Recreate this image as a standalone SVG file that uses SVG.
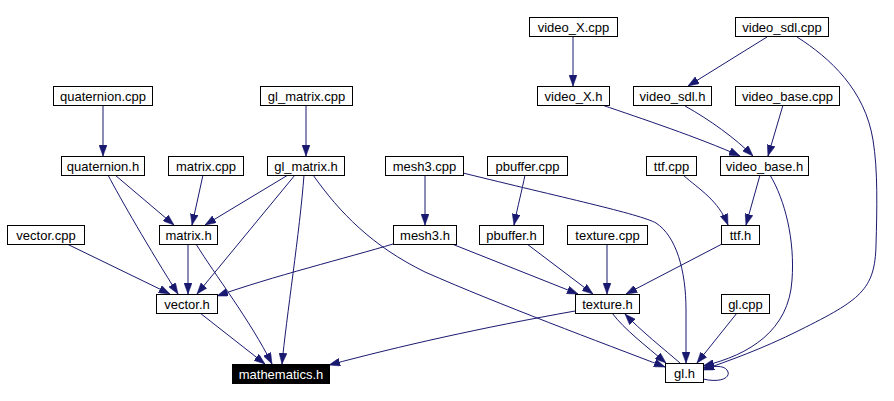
<svg xmlns="http://www.w3.org/2000/svg" width="894" height="401" viewBox="0 0 894 401">
<style>
.n rect{fill:#fff;stroke:#000;stroke-width:1}
.n text{font-family:"Liberation Sans",Arial,sans-serif;font-size:13px;text-anchor:middle;fill:#000}
.hl rect{fill:#000}
.hl text{fill:#fff}
#edges path{fill:none;stroke:#191970;stroke-width:1;marker-end:url(#ah)}
</style>
<defs>
<marker id="ah" markerWidth="11" markerHeight="8" refX="11" refY="4" orient="auto" markerUnits="userSpaceOnUse" viewBox="0 0 11 8">
<path d="M0,0 L11,4 L0,8 z" fill="#191970" stroke="#191970" stroke-width="0.5"/>
</marker>
</defs>
<rect width="894" height="401" fill="#fff"/>
<g id="edges">
<path d="M103,105 L103,156"/>
<path d="M306,105 L306,156"/>
<path d="M115,175 L174,225"/>
<path d="M108,175 C120,198 150,250 178,294"/>
<path d="M203,175 L192,225"/>
<path d="M288,175 L205,225"/>
<path d="M295,175 L197,294"/>
<path d="M304,175 C300,230 286,320 282,364"/>
<path d="M313,175 C340,213 372,246 425,272 C500,305 600,342 665,367"/>
<path d="M67,244 L170,294"/>
<path d="M188,244 L188,294"/>
<path d="M196,244 C215,275 250,320 272,364"/>
<path d="M200,313 L265,364"/>
<path d="M425,175 L425,225"/>
<path d="M463,173 C560,197 640,214 656,223 C676,236 686,270 686,310 L686,363"/>
<path d="M393,244 C350,257 270,277 217,296"/>
<path d="M452,244 L578,294"/>
<path d="M525,175 C522,190 518,205 514,225"/>
<path d="M527,244 L593,294"/>
<path d="M607,244 L607,294"/>
<path d="M722,244 L626,294"/>
<path d="M575,311 C480,328 400,346 329,365"/>
<path d="M612,313 C625,330 645,345 666,363"/>
<path d="M680,363 C665,350 640,330 625,314"/>
<path d="M683,175 C700,190 718,200 728,225"/>
<path d="M760,175 L746,225"/>
<path d="M770,175 C785,200 795,240 792,280 C789,330 750,355 703,366"/>
<path d="M797,37 C830,58 865,90 873,140 C878,170 877,210 876,245 C875,290 860,300 800,330 C760,350 730,360 703,370"/>
<path d="M573,36 L573,86"/>
<path d="M602,105 C640,118 700,138 740,156"/>
<path d="M767,37 L688,86"/>
<path d="M685,106 C710,120 735,138 753,156"/>
<path d="M783,105 L768,156"/>
<path d="M737,313 L697,363"/>
<path d="M703,379 C720,383 730,378 728,372 C726,366 718,365 703,368"/>
</g>
<g id="video_X_cpp" class="n"><rect x="529.5" y="17.5" width="88" height="19"/><text x="573.5" y="31.5">video_X.cpp</text></g>
<g id="video_sdl_cpp" class="n"><rect x="735.5" y="17.5" width="93" height="19"/><text x="782" y="31.5">video_sdl.cpp</text></g>
<g id="quaternion_cpp" class="n"><rect x="53.5" y="86.5" width="99" height="19"/><text x="103" y="100.5">quaternion.cpp</text></g>
<g id="gl_matrix_cpp" class="n"><rect x="260.5" y="86.5" width="92" height="19"/><text x="306.5" y="100.5">gl_matrix.cpp</text></g>
<g id="video_X_h" class="n"><rect x="537.5" y="86.5" width="72" height="19"/><text x="573.5" y="100.5">video_X.h</text></g>
<g id="video_sdl_h" class="n"><rect x="633.5" y="86.5" width="78" height="19"/><text x="672.5" y="100.5">video_sdl.h</text></g>
<g id="video_base_cpp" class="n"><rect x="735.5" y="86.5" width="104" height="19"/><text x="787.5" y="100.5">video_base.cpp</text></g>
<g id="quaternion_h" class="n"><rect x="61.5" y="156.5" width="83" height="19"/><text x="103" y="170.5">quaternion.h</text></g>
<g id="matrix_cpp" class="n"><rect x="168.5" y="156.5" width="75" height="19"/><text x="206" y="170.5">matrix.cpp</text></g>
<g id="gl_matrix_h" class="n"><rect x="267.5" y="156.5" width="77" height="19"/><text x="306" y="170.5">gl_matrix.h</text></g>
<g id="mesh3_cpp" class="n"><rect x="385.5" y="156.5" width="78" height="19"/><text x="424.5" y="170.5">mesh3.cpp</text></g>
<g id="pbuffer_cpp" class="n"><rect x="487.5" y="156.5" width="80" height="19"/><text x="527.5" y="170.5">pbuffer.cpp</text></g>
<g id="ttf_cpp" class="n"><rect x="646.5" y="156.5" width="50" height="19"/><text x="671.5" y="170.5">ttf.cpp</text></g>
<g id="video_base_h" class="n"><rect x="720.5" y="156.5" width="88" height="19"/><text x="764.5" y="170.5">video_base.h</text></g>
<g id="vector_cpp" class="n"><rect x="7.5" y="225.5" width="77" height="19"/><text x="46" y="239.5">vector.cpp</text></g>
<g id="matrix_h" class="n"><rect x="159.5" y="225.5" width="58" height="19"/><text x="188.5" y="239.5">matrix.h</text></g>
<g id="mesh3_h" class="n"><rect x="393.5" y="225.5" width="63" height="19"/><text x="425" y="239.5">mesh3.h</text></g>
<g id="pbuffer_h" class="n"><rect x="479.5" y="225.5" width="64" height="19"/><text x="511.5" y="239.5">pbuffer.h</text></g>
<g id="texture_cpp" class="n"><rect x="567.5" y="225.5" width="80" height="19"/><text x="607.5" y="239.5">texture.cpp</text></g>
<g id="ttf_h" class="n"><rect x="721.5" y="225.5" width="38" height="19"/><text x="740.5" y="239.5">ttf.h</text></g>
<g id="vector_h" class="n"><rect x="156.5" y="294.5" width="61" height="19"/><text x="187" y="308.5">vector.h</text></g>
<g id="texture_h" class="n"><rect x="575.5" y="294.5" width="64" height="19"/><text x="607.5" y="308.5">texture.h</text></g>
<g id="gl_cpp" class="n"><rect x="721.5" y="294.5" width="48" height="19"/><text x="745.5" y="308.5">gl.cpp</text></g>
<g id="mathematics_h" class="n hl"><rect x="232.5" y="364.5" width="97" height="19"/><text x="281" y="378.5">mathematics.h</text></g>
<g id="gl_h" class="n"><rect x="665.5" y="363.5" width="38" height="19"/><text x="684.5" y="377.5">gl.h</text></g>
</svg>
